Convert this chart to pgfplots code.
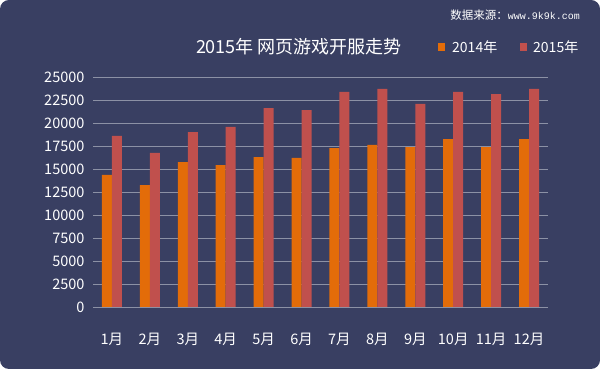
\documentclass[border=0pt]{standalone}
\usepackage{fontspec}
\setmainfont{Noto Sans CJK SC}
\newfontfamily\monofont{Liberation Mono}
\usepackage{pgfplots}
\pgfplotsset{compat=1.18}
\definecolor{bg}{RGB}{57,63,98}
\definecolor{c14}{RGB}{227,108,9}
\definecolor{c15}{RGB}{192,80,77}
\definecolor{gridc}{RGB}{140,145,165}
\begin{document}
\begin{tikzpicture}
\fill[bg, rounded corners=9pt] (0pt,0pt) rectangle (600pt,369pt);
\node[text=white, font=\fontsize{11.5}{13}\selectfont, anchor=east, inner sep=0pt] at (580pt,354pt) {数据来源：{\monofont\fontsize{10}{12}\selectfont www.9k9k.com}};
\node[text=white, font=\fontsize{18}{20}\selectfont, inner sep=0pt] at (299pt,322pt) {2015年 网页游戏开服走势};
\fill[c14] (438pt,318pt) rectangle (445pt,326pt);
\node[text=white, font=\fontsize{14}{16}\selectfont, anchor=west, inner sep=0pt] at (452pt,322pt) {2014年};
\fill[c15] (520pt,318pt) rectangle (527pt,326pt);
\node[text=white, font=\fontsize{14}{16}\selectfont, anchor=west, inner sep=0pt] at (533pt,322pt) {2015年};
\begin{axis}[
  at={(93pt,62pt)}, anchor=south west,
  scale only axis, width=455pt, height=230pt,
  xmin=-0.5, xmax=11.5, ymin=0, ymax=25000,
  ybar=0pt, bar width=10pt,
  axis line style={draw=none},
  ytick distance=2500,
  ymajorgrids, grid style={gridc, line width=0.8pt},
  xtick={0,...,11},
  xticklabels={1月,2月,3月,4月,5月,6月,7月,8月,9月,10月,11月,12月},
  major tick length=0pt,
  tick label style={text=white, font=\fontsize{14.5}{16}\selectfont},
  xticklabel style={yshift=-23pt},
  yticklabel style={xshift=-5pt},
  /pgf/number format/assume math mode=true,
  /pgf/number format/fixed, /pgf/number format/1000 sep={},
  scaled y ticks=false,
]
\addplot[fill=c14, draw=none] coordinates {(0,14350) (1,13260) (2,15760) (3,15430) (4,16300) (5,16200) (6,17280) (7,17610) (8,17390) (9,18260) (10,17390) (11,18260)};
\addplot[fill=c15, draw=none] coordinates {(0,18590) (1,16740) (2,19020) (3,19570) (4,21630) (5,21410) (6,23370) (7,23700) (8,22070) (9,23370) (10,23150) (11,23700)};
\end{axis}
\end{tikzpicture}
\end{document}
